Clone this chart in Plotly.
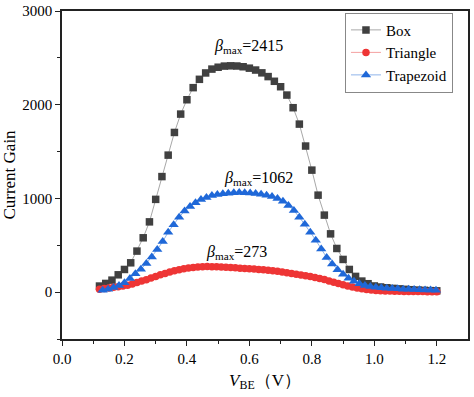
import plotly.graph_objects as go

# ---- data ----
box_x = [0.12, 0.14, 0.16, 0.18, 0.20, 0.22, 0.24, 0.26, 0.28, 0.30,
         0.32, 0.34, 0.36, 0.38, 0.40, 0.42, 0.44, 0.46, 0.48, 0.50,
         0.52, 0.54, 0.56, 0.58, 0.60, 0.62, 0.64, 0.66, 0.68, 0.70,
         0.72, 0.74, 0.76, 0.78, 0.80, 0.82, 0.84, 0.86, 0.88, 0.90,
         0.92, 0.94, 0.96, 0.98, 1.00, 1.02, 1.04, 1.06, 1.08, 1.10,
         1.12, 1.14, 1.16, 1.18, 1.20]
box_y = [65, 93, 128, 185, 242, 313, 438, 580, 750, 990,
         1233, 1462, 1704, 1900, 2053, 2182, 2271, 2339, 2380, 2400,
         2412, 2415, 2413, 2405, 2390, 2370, 2340, 2300, 2250, 2192,
         2103, 1968, 1793, 1559, 1302, 1035, 822, 622, 466, 349,
         242, 168, 118, 90, 66, 55, 47, 40, 35, 30,
         26, 22, 19, 16, 14]

tri_x = [0.130, 0.1475, 0.165, 0.1825, 0.200, 0.2175, 0.235, 0.2525, 0.270, 0.2875,
         0.305, 0.3225, 0.340, 0.3575, 0.375, 0.3925, 0.410, 0.4275, 0.445, 0.4625,
         0.480, 0.4975, 0.515, 0.5325, 0.550, 0.5675, 0.585, 0.6025, 0.620, 0.6375,
         0.655, 0.6725, 0.690, 0.7075, 0.725, 0.7425, 0.760, 0.7775, 0.795, 0.8125,
         0.830, 0.8475, 0.865, 0.8825, 0.900, 0.9175, 0.935, 0.9525, 0.970, 0.9875,
         1.005, 1.0225, 1.040, 1.0575, 1.075, 1.0925, 1.110, 1.1275, 1.145, 1.1625,
         1.180, 1.1975]
tri_y = [20, 32, 50, 72, 100, 146, 195, 245, 305, 375,
         455, 540, 640, 720, 800, 865, 915, 955, 988, 1010,
         1030, 1042, 1050, 1056, 1060, 1062, 1061, 1058, 1052, 1045,
         1035, 1020, 1000, 970, 925, 870, 800, 725, 640, 555,
         460, 370, 299, 240, 190, 148, 115, 90, 72, 60,
         52, 46, 42, 38, 35, 32, 30, 28, 26, 24,
         22, 20]

red_x = [0.120, 0.135, 0.150, 0.165, 0.180, 0.195, 0.210, 0.225, 0.240, 0.255,
         0.270, 0.285, 0.300, 0.315, 0.330, 0.345, 0.360, 0.375, 0.390, 0.405,
         0.420, 0.435, 0.450, 0.465, 0.480, 0.495, 0.510, 0.525, 0.540, 0.555,
         0.570, 0.585, 0.600, 0.615, 0.630, 0.645, 0.660, 0.675, 0.690, 0.705,
         0.720, 0.735, 0.750, 0.765, 0.780, 0.795, 0.810, 0.825, 0.840, 0.855,
         0.870, 0.885, 0.900, 0.915, 0.930, 0.945, 0.960, 0.975, 0.990, 1.005,
         1.020, 1.035, 1.050, 1.065, 1.080, 1.095, 1.110, 1.125, 1.140, 1.155,
         1.170, 1.185, 1.200]
red_y = [30, 38, 45, 52, 58, 65, 74, 88, 103, 118,
         133, 150, 168, 185, 200, 215, 228, 240, 250, 258,
         264, 269, 272, 273, 272, 270, 268, 265, 262, 259,
         256, 253, 250, 246, 242, 238, 233, 228, 222, 215,
         208, 200, 192, 184, 175, 166, 156, 146, 134, 120,
         106, 92, 79, 66, 54, 44, 35, 28, 22, 18,
         15, 13, 11, 10, 9, 8, 7, 7, 6, 6,
         5, 5, 5]

labels = [("<i>β</i><sub>max</sub>=2415", 0.596, 2620),
          ("<i>β</i><sub>max</sub>=1062", 0.628, 1215),
          ("<i>β</i><sub>max</sub>=273", 0.56, 425)]

FONT = "Times New Roman, Liberation Serif, serif"

fig = go.Figure()
fig.add_trace(go.Scatter(
    x=box_x, y=box_y, name="Box", mode="lines+markers",
    line=dict(color="#a8a8a8", width=1),
    marker=dict(symbol="square", size=7.5, color="#404040")))
fig.add_trace(go.Scatter(
    x=red_x, y=red_y, name="Triangle", mode="lines+markers",
    line=dict(color="#f4a0a0", width=1),
    marker=dict(symbol="circle", size=7.5, color="#ee3535")))
fig.add_trace(go.Scatter(
    x=tri_x, y=tri_y, name="Trapezoid", mode="lines+markers",
    line=dict(color="#8fb4ea", width=1),
    marker=dict(symbol="triangle-up", size=9, color="#1f68d8")))

for text, xv, yv in labels:
    fig.add_annotation(x=xv, y=yv, xref="x", yref="y", text=text,
                       showarrow=False, font=dict(family=FONT, size=16, color="black"))

axis_common = dict(
    showgrid=False, zeroline=False, showline=True, linecolor="#222",
    linewidth=1.5, mirror=True, ticks="outside", ticklen=5, tickwidth=1.2,
    tickcolor="#222", tickfont=dict(family=FONT, size=15, color="black"),
    automargin=False,
)
fig.update_xaxes(
    range=[0, 1.3], tickvals=[0.0, 0.2, 0.4, 0.6, 0.8, 1.0, 1.2],
    ticktext=["0.0", "0.2", "0.4", "0.6", "0.8", "1.0", "1.2"],
    minor=dict(tickvals=[0.1, 0.3, 0.5, 0.7, 0.9, 1.1], ticks="outside",
               ticklen=3, tickcolor="#222"),
    title=dict(text="<i>V</i><sub>BE</sub>（V）", font=dict(family=FONT, size=17, color="black"),
               standoff=8),
    **axis_common)
fig.update_yaxes(
    range=[-500, 3000], tickvals=[0, 1000, 2000, 3000],
    minor=dict(tickvals=[-500, 500, 1500, 2500], ticks="outside",
               ticklen=3, tickcolor="#222"),
    title=dict(text="Current Gain", font=dict(family=FONT, size=17, color="black"),
               standoff=8),
    **axis_common)

fig.update_layout(
    width=474, height=397,
    margin=dict(l=62, r=6, t=11, b=58),
    paper_bgcolor="white", plot_bgcolor="white",
    showlegend=True,
    legend=dict(x=0.963, y=0.995, xanchor="right", yanchor="top",
                bordercolor="#888", borderwidth=1, bgcolor="white",
                font=dict(family=FONT, size=15, color="black"),
                itemwidth=30, tracegroupgap=0),
)

fig.write_html("out.html", config={"displayModeBar": False},
               post_script="document.body.style.margin='0';")
